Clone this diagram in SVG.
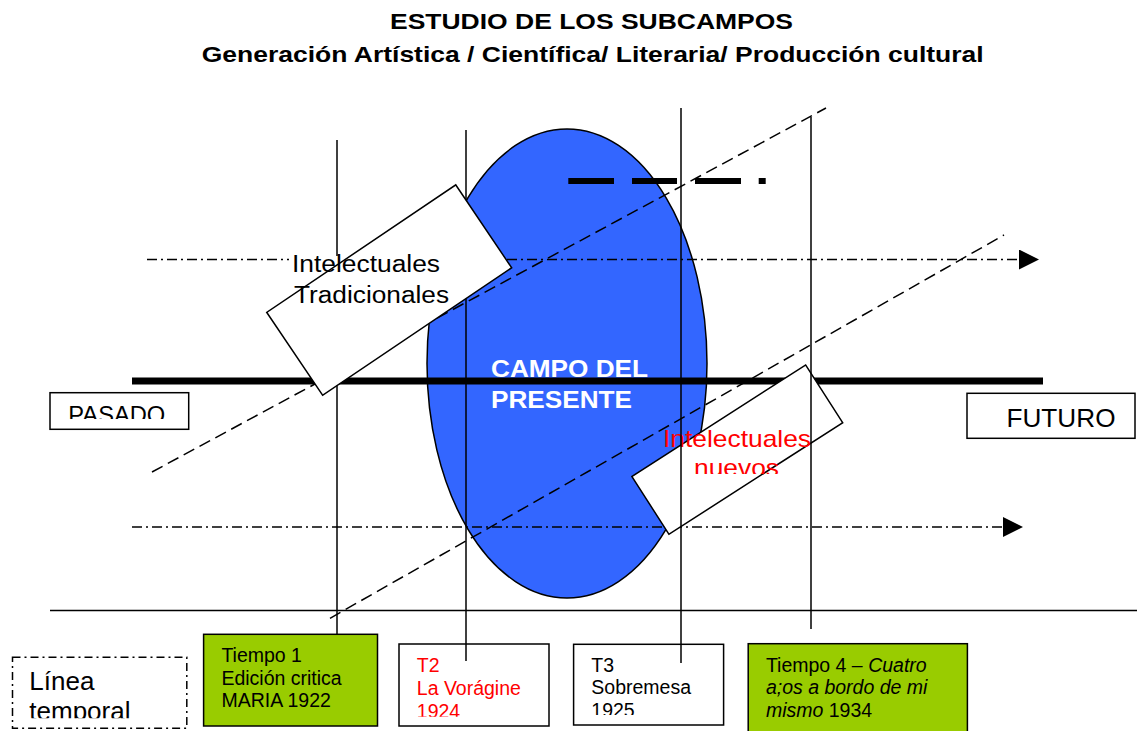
<svg xmlns="http://www.w3.org/2000/svg" width="1137" height="731" viewBox="0 0 1137 731">
<defs>
<style>
text{font-family:"Liberation Sans",Arial,Helvetica,sans-serif;}
.thin{stroke:#000;stroke-width:1.5;fill:none}
.dd{stroke:#000;stroke-width:1.5;stroke-dasharray:10 4 2 4;fill:none}
.dash{stroke:#000;stroke-width:1.5;stroke-dasharray:12 6;fill:none}
.box{fill:#fff;stroke:#000;stroke-width:1.5}
.green{fill:#99CC00;stroke:#000;stroke-width:1.5}
.small{font-size:19.5px;fill:#000}
.red{fill:#FF0000}
.big{font-size:26px;fill:#000}
.title{font-size:22px;font-weight:bold;fill:#000}
</style>
<marker id="arr" markerUnits="userSpaceOnUse" markerWidth="20" markerHeight="20" viewBox="0 0 20 20" refX="0" refY="10" orient="auto"><path d="M0,0 L20,10 L0,20 z" fill="#000"/></marker>
<clipPath id="cPasado"><rect x="50" y="393" width="139" height="26"/></clipPath>
<clipPath id="cNuevos"><rect x="600" y="420" width="300" height="54"/></clipPath>
<clipPath id="cLinea"><rect x="12" y="657" width="175" height="61.3"/></clipPath>
<clipPath id="cT2"><rect x="399" y="644" width="150" height="72.7"/></clipPath>
<clipPath id="cT3"><rect x="573" y="644" width="151" height="71"/></clipPath>
</defs>

<g id="title">
<text class="title" x="390" y="29" textLength="403" lengthAdjust="spacingAndGlyphs">ESTUDIO DE LOS SUBCAMPOS</text>
<text class="title" x="201.7" y="61.5" textLength="782" lengthAdjust="spacingAndGlyphs">Generación Artística / Científica/ Literaria/ Producción cultural</text>
</g>

<g id="tiempo1">
<rect class="green" x="203.6" y="634.3" width="173.9" height="91.7"/>
<text class="small" x="221.4" y="662.3">Tiempo 1</text>
<text class="small" x="221.4" y="685">Edición critica</text>
<text class="small" x="221.4" y="707.3">MARIA 1922</text>
</g>

<g id="t2">
<rect class="box" x="399" y="644" width="150" height="82"/>
<g clip-path="url(#cT2)">
<text class="small red" x="416.8" y="672">T2</text>
<text class="small red" x="416.8" y="694.5">La Vorágine</text>
<text class="small red" x="416.8" y="718.3">1924</text>
</g>
</g>

<g id="t3">
<rect class="box" x="573.6" y="644.3" width="150" height="80.7"/>
<g clip-path="url(#cT3)">
<text class="small" x="591.3" y="672">T3</text>
<text class="small" x="591.3" y="694.3">Sobremesa</text>
<text class="small" x="591.3" y="716.5">1925</text>
</g>
</g>

<g id="tiempo4">
<rect class="green" x="748.2" y="643.7" width="219.2" height="90"/>
<text class="small" x="765.9" y="672">Tiempo 4 – <tspan font-style="italic">Cuatro</tspan></text>
<text class="small" x="765.9" y="694.3" font-style="italic">a;os a bordo de mi</text>
<text class="small" x="765.9" y="717"><tspan font-style="italic">mismo</tspan> 1934</text>
</g>

<g id="linea-temporal">
<rect x="12.5" y="657.3" width="174.3" height="71" fill="#fff" stroke="#000" stroke-width="1.5" stroke-dasharray="8 4 2 4"/>
<g clip-path="url(#cLinea)">
<text class="big" x="29.3" y="690">Línea</text>
<text class="big" x="29.3" y="720">temporal</text>
</g>
</g>

<g id="pasado">
<rect class="box" x="50" y="392.7" width="138.7" height="36.6"/>
<text x="68.3" y="423" font-size="23" textLength="97" lengthAdjust="spacingAndGlyphs" clip-path="url(#cPasado)">PASADO</text>
</g>

<g id="futuro">
<rect class="box" x="967" y="393.3" width="168" height="45"/>
<text class="big" x="1006.5" y="426.7" textLength="109" lengthAdjust="spacingAndGlyphs">FUTURO</text>
</g>

<g id="campo-del-presente">
<ellipse cx="567" cy="363.5" rx="140" ry="234.5" fill="#3366FF" stroke="#000" stroke-width="1.5"/>
<text x="491" y="377" font-size="23.3" font-weight="bold" fill="#fff" textLength="157" lengthAdjust="spacingAndGlyphs">CAMPO DEL</text>
<text x="491" y="408.3" font-size="23.3" font-weight="bold" fill="#fff" textLength="141" lengthAdjust="spacingAndGlyphs">PRESENTE</text>
</g>

<g id="connectors">
<line class="thin" x1="50" y1="610.5" x2="1137" y2="610.5"/>
<line class="dash" x1="152" y1="472" x2="826" y2="108"/>
<line class="dash" x1="330" y1="618.3" x2="1004" y2="235"/>
<line class="dd" x1="147" y1="259.5" x2="1019" y2="259.5" marker-end="url(#arr)"/>
<line class="dd" x1="132" y1="527" x2="1003" y2="527" marker-end="url(#arr)"/>
<line x1="568.3" y1="181" x2="766" y2="181" stroke="#000" stroke-width="6" stroke-dasharray="45.7 18 45 18 46 17.7 7 100"/>
<line class="thin" x1="337" y1="140" x2="337" y2="634.3"/>
<line class="thin" x1="466" y1="130" x2="466" y2="661"/>
<line x1="132" y1="381" x2="1043" y2="381" stroke="#000" stroke-width="7"/>
</g>

<g id="intelectuales-tradicionales">
<rect x="289" y="256" width="163" height="52" fill="#fff"/>
<rect class="box" x="-114" y="-50" width="228" height="100" transform="translate(389.2 290.1) rotate(-34)"/>
<text x="292" y="272" font-size="23" textLength="148" lengthAdjust="spacingAndGlyphs">Intelectuales</text>
<text x="294" y="303" font-size="23" textLength="155" lengthAdjust="spacingAndGlyphs">Tradicionales</text>
</g>

<g id="intelectuales-nuevos">
<rect class="box" x="-103.25" y="-34.3" width="206.5" height="68.6" transform="translate(737.3 449.6) rotate(-32.7)"/>
<text class="red" x="663" y="447" font-size="24" textLength="148" lengthAdjust="spacingAndGlyphs">Intelectuales</text>
<text class="red" x="694" y="476" font-size="24" textLength="85" lengthAdjust="spacingAndGlyphs" clip-path="url(#cNuevos)">nuevos</text>
</g>

<g id="connectors-front">
<line class="thin" x1="681" y1="108" x2="681" y2="663"/>
<line class="thin" x1="811" y1="117" x2="811" y2="629"/>
</g>
</svg>
